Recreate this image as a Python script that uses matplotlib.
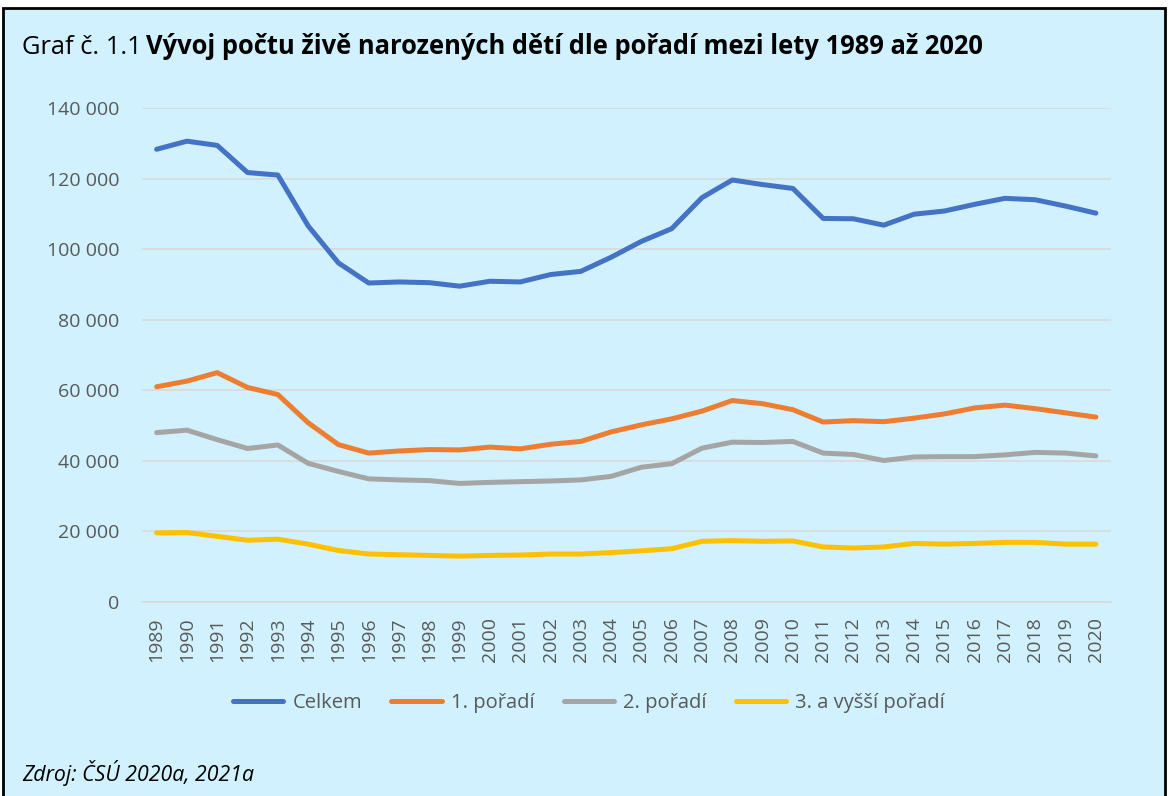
import matplotlib.pyplot as plt
from matplotlib.patches import Rectangle
from matplotlib.ticker import FuncFormatter

plt.rcParams['font.family'] = ['Open Sans', 'DejaVu Sans']

years = list(range(1989, 2021))

# live births by birth order
celkem = [128.3, 130.6, 129.4, 121.7, 121.0, 106.6, 96.1, 90.4, 90.7, 90.5,
          89.5, 90.9, 90.7, 92.8, 93.7, 97.7, 102.2, 105.8, 114.6, 119.6,
          118.3, 117.2, 108.7, 108.6, 106.8, 109.9, 110.8, 112.7, 114.4, 114.0,
          112.2, 110.2]
poradi_1 = [61.0, 62.6, 65.0, 60.8, 58.8, 50.8, 44.6, 42.2, 42.8, 43.2,
            43.1, 43.9, 43.4, 44.7, 45.5, 48.2, 50.2, 51.9, 54.1, 57.1,
            56.2, 54.5, 51.0, 51.4, 51.1, 52.1, 53.3, 55.0, 55.8, 54.8,
            53.6, 52.4]
poradi_2 = [48.0, 48.7, 46.0, 43.5, 44.5, 39.3, 37.0, 34.9, 34.6, 34.4,
            33.6, 33.9, 34.1, 34.3, 34.6, 35.6, 38.2, 39.2, 43.6, 45.3,
            45.2, 45.5, 42.2, 41.8, 40.1, 41.1, 41.2, 41.2, 41.7, 42.4,
            42.2, 41.4]
poradi_3 = [19.6, 19.7, 18.6, 17.5, 17.8, 16.4, 14.6, 13.6, 13.4, 13.2,
            13.0, 13.2, 13.3, 13.6, 13.6, 14.0, 14.5, 15.1, 17.2, 17.4,
            17.2, 17.3, 15.6, 15.3, 15.6, 16.6, 16.4, 16.6, 16.9, 16.9,
            16.4, 16.4]

series = [
    ('Celkem', celkem, '#4472C4'),
    ('1. pořadí', poradi_1, '#ED7D31'),
    ('2. pořadí', poradi_2, '#A5A5A5'),
    ('3. a vyšší pořadí', poradi_3, '#FFC000'),
]

bg = '#D0F1FD'
fig = plt.figure(figsize=(11.68, 7.96), dpi=100, facecolor='white')

# framed panel behind everything
fig.patches.append(Rectangle((3 / 1168, -0.01), 1162 / 1168, 1.0 - 8 / 796 + 0.01,
                             transform=fig.transFigure, facecolor=bg,
                             edgecolor='black', linewidth=2, zorder=-10))

ax = fig.add_axes([141.5 / 1168, 1 - 602 / 796, (1111 - 141.5) / 1168, (602 - 108) / 796])
ax.set_zorder(1)
ax.set_facecolor(bg)

for name, vals, col in series:
    ax.plot(years, [v * 1000 for v in vals], color=col, lw=3.6,
            solid_capstyle='round', solid_joinstyle='round', label=name)

ax.set_xlim(1988.5, 2020.5)
ax.set_ylim(0, 140000)
ax.set_yticks(range(0, 140001, 20000))
ax.yaxis.set_major_formatter(FuncFormatter(lambda v, p: f'{int(v):,}'.replace(',', ' ')))
ax.set_xticks(years)
ax.set_xticklabels([str(y) for y in years], rotation=90)
ax.tick_params(axis='both', length=0, labelsize=14, colors='#595959')
ax.tick_params(axis='y', pad=16)
ax.tick_params(axis='x', pad=11)
ax.grid(axis='y', color='#D9D9D9', lw=1.2)
ax.set_axisbelow(True)
for s in ['top', 'right', 'left']:
    ax.spines[s].set_visible(False)
ax.spines['bottom'].set_color('#D9D9D9')
ax.spines['bottom'].set_linewidth(1.2)

leg = fig.legend(loc='center', bbox_to_anchor=(589 / 1168, 1 - 703 / 796), ncol=4,
                 frameon=False, fontsize=14.5, handlelength=2.5, handletextpad=0.45,
                 columnspacing=1.45)
for t in leg.get_texts():
    t.set_color('#595959')

fig.text(22 / 1168, 1 - 47 / 796, 'Graf č. 1.1 ', fontsize=18.4, va='center', ha='left')
fig.text(146 / 1168, 1 - 47 / 796, 'Vývoj počtu živě narozených dětí dle pořadí mezi lety 1989 až 2020',
         fontsize=18.4, fontweight='bold', va='center', ha='left')
fig.text(22 / 1168, 1 - 773 / 796, 'Zdroj: ČSÚ 2020a, 2021a', fontsize=15.3,
         style='italic', va='center', ha='left')

fig.savefig('out.png', dpi=100, facecolor=fig.get_facecolor())
